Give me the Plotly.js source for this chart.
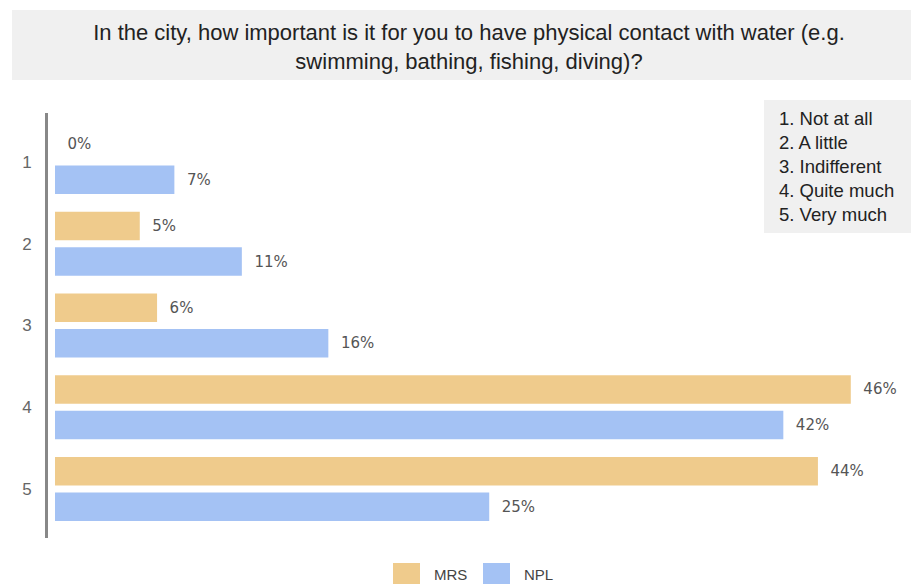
<!DOCTYPE html>
<html>
<head>
<meta charset="utf-8">
<script src="https://cdn.plot.ly/plotly-3.0.1.min.js"></script>
<style>html,body{margin:0;padding:0;background:#fff;}#chart{width:911px;height:588px;}</style>
</head>
<body>
<div id="chart"></div>
<script>
// ---- data ----
const categories = [1, 2, 3, 4, 5];
const categoryLabels = ['1', '2', '3', '4', '5'];
const seriesNames = ['MRS', 'NPL'];
const mrsValues = [0, 4.9, 5.9, 46, 44.1];
const nplValues = [6.9, 10.8, 15.8, 42.1, 25.1];
const keyLines = ['1. Not at all', '2. A little', '3. Indifferent', '4. Quite much', '5. Very much'];
const titleText = 'In the city, how important is it for you to have physical contact with water (e.g.<br>swimming, bathing, fishing, diving)?';

// ---- styling ----
const colors = ['#EFCB8C', '#A4C2F4'];
const W = 911, H = 588;
const M = {l: 48, r: 6, t: 113, b: 50};
const PW = W - M.l - M.r, PH = H - M.t - M.b;
const px = p => (p - M.l) / PW;
const py = p => (H - M.b - p) / PH;
const labelFont = {family: 'DejaVu Sans', size: 15, color: '#555'};

const traces = [mrsValues, nplValues].map((vals, i) => ({
  type: 'bar',
  orientation: 'h',
  name: seriesNames[i],
  y: categories,
  x: vals,
  marker: {color: colors[i]},
  texttemplate: '\u00a0\u00a0%{x:.0f}%',
  textposition: 'outside',
  cliponaxis: false,
  textfont: labelFont,
  hoverinfo: 'skip'
}));

const shapes = [
  // title box
  {type: 'rect', xref: 'paper', yref: 'paper', x0: px(12), x1: px(911), y0: py(80), y1: py(10),
   fillcolor: '#F0F0F0', line: {width: 0}, layer: 'below'},
  // key box
  {type: 'rect', xref: 'paper', yref: 'paper', x0: px(764), x1: px(911), y0: py(233), y1: py(100),
   fillcolor: '#F0F0F0', line: {width: 0}, layer: 'below'}
];
const annotations = [
  {xref: 'paper', yref: 'paper', x: px(777), y: py(166), xanchor: 'left', yanchor: 'middle',
   align: 'left', showarrow: false, text: keyLines.join('<br>'),
   font: {family: 'Liberation Sans', size: 18.5, color: '#222'}}
];
// custom legend
const legendX = [393, 483];
seriesNames.forEach((n, i) => {
  shapes.push({type: 'rect', xref: 'paper', yref: 'paper', x0: px(legendX[i]), x1: px(legendX[i] + 27),
    y0: py(584), y1: py(563), fillcolor: colors[i], line: {width: 0}});
  annotations.push({xref: 'paper', yref: 'paper', x: px(legendX[i] + 39), y: py(574), xanchor: 'left',
    yanchor: 'middle', showarrow: false, text: n, font: {family: 'Liberation Sans', size: 15, color: '#444'}});
});

const layout = {
  width: W, height: H,
  margin: M,
  paper_bgcolor: '#fff', plot_bgcolor: '#fff',
  showlegend: false,
  barmode: 'group',
  bargap: 0.13,
  bargroupgap: 0.2,
  title: {text: titleText, x: 469 / W, xanchor: 'center', xref: 'container',
          y: 1 - 40 / H, yanchor: 'middle', yref: 'container',
          font: {family: 'Liberation Sans', size: 22, color: '#222'}},
  xaxis: {range: [-7 / 17.3, (W - M.r - 55) / 17.3], showgrid: false, zeroline: false,
          showline: false, showticklabels: false, ticks: ''},
  yaxis: {range: [5.6, 0.4], tickvals: categories, ticktext: categoryLabels,
          showgrid: false, zeroline: false, showline: true, linecolor: '#888', linewidth: 3,
          ticks: '', ticklabelstandoff: 10,
          tickfont: {family: 'Liberation Sans', size: 17, color: '#666'}},
  shapes: shapes,
  annotations: annotations
};

Plotly.newPlot('chart', traces, layout, {displayModeBar: false, staticPlot: true});
</script>
</body>
</html>
